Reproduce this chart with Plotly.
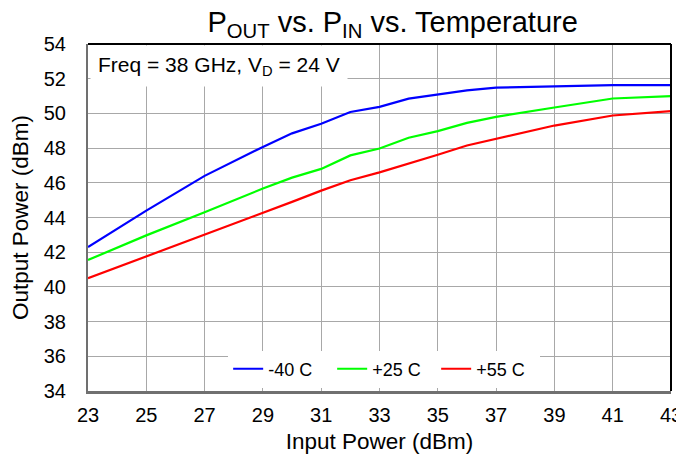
import plotly.graph_objects as go

pin = [23, 25, 27, 29, 30, 31, 32, 33, 34, 35, 36, 37, 39, 41, 43]
pout_m40 = [42.3, 44.4, 46.4, 48.07, 48.85, 49.4, 50.08, 50.38, 50.85, 51.08, 51.33, 51.48, 51.57, 51.63, 51.63]
pout_p25 = [41.55, 42.97, 44.3, 45.67, 46.3, 46.8, 47.58, 47.98, 48.6, 48.98, 49.45, 49.8, 50.34, 50.86, 51.0]
pout_p55 = [40.5, 41.75, 42.98, 44.23, 44.9, 45.55, 46.15, 46.6, 47.1, 47.62, 48.15, 48.52, 49.3, 49.88, 50.13]

series = [("-40 C", pout_m40, "#0000ff"), ("+25 C", pout_p25, "#00ff00"), ("+55 C", pout_p55, "#ff0000")]

xticks = list(range(23, 44, 2))
yticks = list(range(34, 55, 2))

fig = go.Figure()
for name, vals, col in series:
    fig.add_trace(go.Scatter(x=pin, y=vals, mode="lines", name=name,
                             line=dict(color=col, width=2.2)))

# page body adds an 8px offset; figure sized to fill the remaining window
font = "Liberation Sans, Arial, sans-serif"
fig.update_layout(
    width=676, height=447,
    margin=dict(l=80, r=13, t=36, b=64),
    paper_bgcolor="white", plot_bgcolor="white",
    font=dict(family=font, size=20, color="black"),
    title=dict(text="P<sub>OUT</sub> vs. P<sub>IN</sub> vs. Temperature",
               x=0.569, xanchor="center", y=0.969, yanchor="middle",
               font=dict(size=29)),
    xaxis=dict(range=[23, 43], tickvals=xticks, showgrid=True, gridcolor="#a8a8a8", gridwidth=1,
               showline=True, linecolor="#707070", linewidth=2.5, ticks="", zeroline=False,
               automargin=False, ticklabelstandoff=4,
               title=dict(text="Input Power (dBm)", font=dict(size=22.5), standoff=9),
               tickfont=dict(size=20)),
    yaxis=dict(range=[34, 54], tickvals=yticks, showgrid=True, gridcolor="#a8a8a8", gridwidth=1,
               showline=True, linecolor="#707070", linewidth=2, ticks="", zeroline=False,
               automargin=False, ticklabelstandoff=16,
               title=dict(text="Output Power (dBm)", font=dict(size=22.5), standoff=11),
               tickfont=dict(size=20)),
    legend=dict(orientation="h", x=0.508, xanchor="center", y=0.01, yanchor="bottom",
                bgcolor="white", font=dict(size=18), entrywidth=59, entrywidthmode="pixels",
                itemwidth=30, tracegroupgap=0),
    showlegend=True,
)
fig.add_shape(type="line", xref="paper", yref="paper", x0=0, x1=1, y0=1, y1=1,
              line=dict(color="black", width=2))
fig.add_shape(type="line", xref="paper", yref="paper", x0=1, x1=1, y0=0, y1=1,
              line=dict(color="black", width=2))
fig.add_annotation(text="Freq = 38 GHz, V<sub>D</sub> = 24 V", xref="paper", yref="paper",
                   x=0.004, y=0.997, xanchor="left", yanchor="top", showarrow=False,
                   bgcolor="white", borderpad=7, font=dict(size=21))
fig.write_html("out.html")
